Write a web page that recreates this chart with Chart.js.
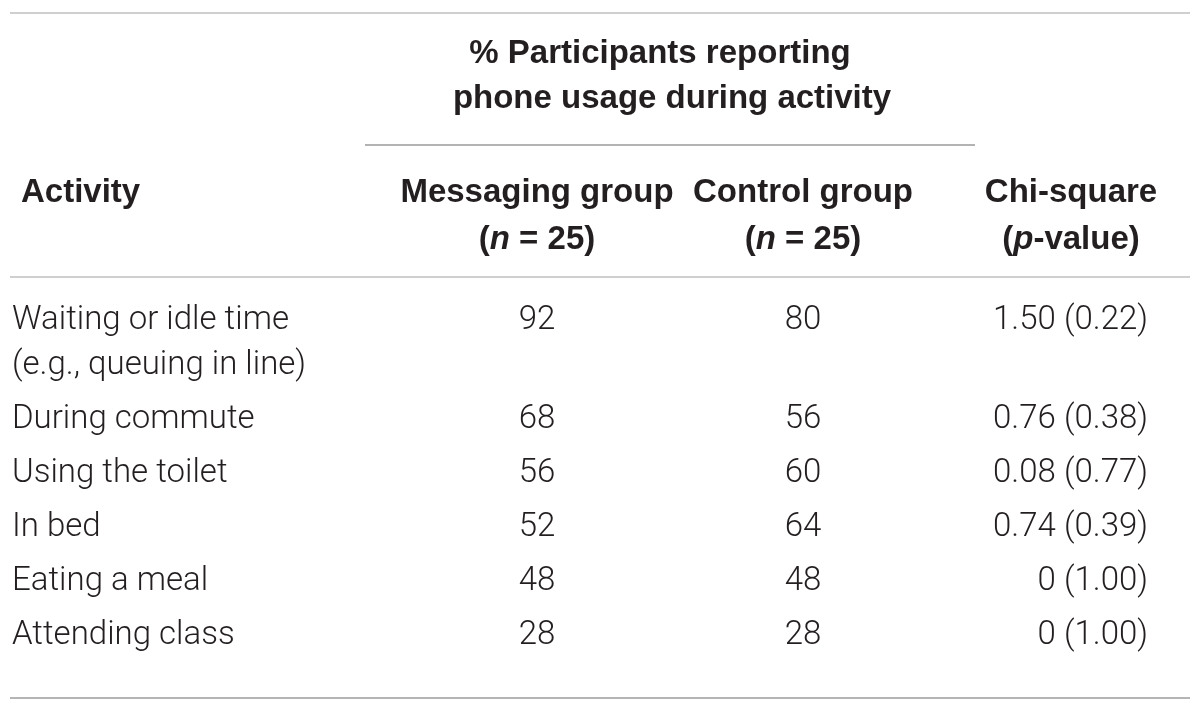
<!DOCTYPE html>
<html>
<head>
<meta charset="utf-8">
<script src="https://cdn.jsdelivr.net/npm/chart.js@4.4.1/dist/chart.umd.min.js"></script>
<style>
  html, body { margin: 0; padding: 0; background: #fff; }
  #tbl { display: block; }
</style>
</head>
<body>
<canvas id="tbl" width="1200" height="713"></canvas>
<script>
// table data
var activities = [
  ["Waiting or idle time", "(e.g., queuing in line)"],
  ["During commute"],
  ["Using the toilet"],
  ["In bed"],
  ["Eating a meal"],
  ["Attending class"]
];
var messaging = [92, 68, 56, 52, 48, 28];
var control = [80, 56, 60, 64, 48, 28];
var chiSquare = [1.50, 0.76, 0.08, 0.74, 0, 0];
var pValues = [0.22, 0.38, 0.77, 0.39, 1.00, 1.00];

var spanTitle = ["% Participants reporting", "phone usage during activity"];
var headMessaging = "Messaging group";
var headControl = "Control group";
var headChi = "Chi-square";

// layout (pixels in the 1200 x 713 frame)
var COL_ACT = 12, COL_MSG = 537, COL_CTRL = 803, COL_CHI_HEAD = 1071, COL_CHI = 1148;
var INK = "#231f20";
var BODY_FONT = "300 33px Roboto, 'Liberation Sans', sans-serif";
var HEAD = "bold 33px 'Liberation Sans', Arial, sans-serif";
var HEAD_IT = "italic bold 33px 'Liberation Sans', Arial, sans-serif";

function rowBase(i) { return 329 + (i > 0 ? 45 : 0) + 54 * i; }
function fmtChi(v) { return v === 0 ? "0" : v.toFixed(2); }

function cellPoints(x) {
  return activities.map(function (a, i) { return { x: x, y: rowBase(i) }; });
}

// draws runs of [text, font] so that a line with italics can be aligned as one
function drawRuns(ctx, runs, x, y, align) {
  var total = 0;
  runs.forEach(function (r) { ctx.font = r[1]; total += ctx.measureText(r[0]).width; });
  var start = align === "center" ? x - total / 2 : (align === "right" ? x - total : x);
  ctx.textAlign = "left";
  runs.forEach(function (r) {
    ctx.font = r[1];
    ctx.fillText(r[0], start, y);
    start += ctx.measureText(r[0]).width;
  });
}

var tablePlugin = {
  id: "tablePlugin",
  afterDraw: function (chart) {
    var ctx = chart.ctx, sx = chart.scales.x, sy = chart.scales.y;
    ctx.save();
    ctx.textBaseline = "alphabetic";
    ctx.fillStyle = INK;

    // rules
    function rule(x0, x1, y, color, w) {
      ctx.beginPath();
      ctx.strokeStyle = color;
      ctx.lineWidth = w;
      ctx.moveTo(sx.getPixelForValue(x0), sy.getPixelForValue(y));
      ctx.lineTo(sx.getPixelForValue(x1), sy.getPixelForValue(y));
      ctx.stroke();
    }
    rule(10, 1190, 13, "#cfcfcf", 2);
    rule(365, 975, 145, "#9a9a9a", 1.5);
    rule(10, 1190, 277, "#cfcfcf", 2);
    rule(10, 1190, 698, "#b5b5b5", 2);

    // header
    ctx.font = HEAD;
    ctx.textAlign = "center";
    ctx.fillText(spanTitle[0], sx.getPixelForValue(660), sy.getPixelForValue(63));
    ctx.fillText(spanTitle[1], sx.getPixelForValue(672), sy.getPixelForValue(108));
    ctx.textAlign = "left";
    ctx.fillText("Activity", sx.getPixelForValue(21), sy.getPixelForValue(202));
    ctx.textAlign = "center";
    ctx.fillText(headMessaging, sx.getPixelForValue(COL_MSG), sy.getPixelForValue(202));
    ctx.fillText(headControl, sx.getPixelForValue(COL_CTRL), sy.getPixelForValue(202));
    ctx.fillText(headChi, sx.getPixelForValue(COL_CHI_HEAD), sy.getPixelForValue(202));
    var nRuns = [["(", HEAD], ["n", HEAD_IT], [" = 25)", HEAD]];
    drawRuns(ctx, nRuns, sx.getPixelForValue(COL_MSG), sy.getPixelForValue(249), "center");
    drawRuns(ctx, nRuns, sx.getPixelForValue(COL_CTRL), sy.getPixelForValue(249), "center");
    drawRuns(ctx, [["(", HEAD], ["p", HEAD_IT], ["-value)", HEAD]],
      sx.getPixelForValue(COL_CHI_HEAD), sy.getPixelForValue(249), "center");

    // body cells, placed from each dataset's points
    ctx.font = BODY_FONT;
    chart.data.datasets.forEach(function (ds, di) {
      var meta = chart.getDatasetMeta(di);
      meta.data.forEach(function (pt, i) {
        if (ds.key === "activity") {
          ctx.textAlign = "left";
          activities[i].forEach(function (line, li) {
            ctx.fillText(line, pt.x, pt.y + li * 45);
          });
        } else if (ds.key === "chi") {
          ctx.textAlign = "right";
          ctx.fillText(fmtChi(chiSquare[i]) + " (" + pValues[i].toFixed(2) + ")", pt.x, pt.y);
        } else {
          ctx.textAlign = "center";
          ctx.fillText(String(ds.values[i]), pt.x, pt.y);
        }
      });
    });
    ctx.restore();
  }
};

new Chart(document.getElementById("tbl"), {
  type: "scatter",
  data: {
    datasets: [
      { key: "activity", data: cellPoints(COL_ACT), pointRadius: 0 },
      { key: "msg", label: headMessaging, values: messaging, data: cellPoints(COL_MSG), pointRadius: 0 },
      { key: "ctrl", label: headControl, values: control, data: cellPoints(COL_CTRL), pointRadius: 0 },
      { key: "chi", label: headChi, data: cellPoints(COL_CHI), pointRadius: 0 }
    ]
  },
  options: {
    responsive: false,
    animation: false,
    layout: { padding: 0 },
    plugins: { legend: { display: false }, tooltip: { enabled: false } },
    scales: {
      x: { type: "linear", min: 0, max: 1200, display: false },
      y: { type: "linear", min: 0, max: 713, reverse: true, display: false }
    }
  },
  plugins: [tablePlugin]
});
</script>
</body>
</html>
